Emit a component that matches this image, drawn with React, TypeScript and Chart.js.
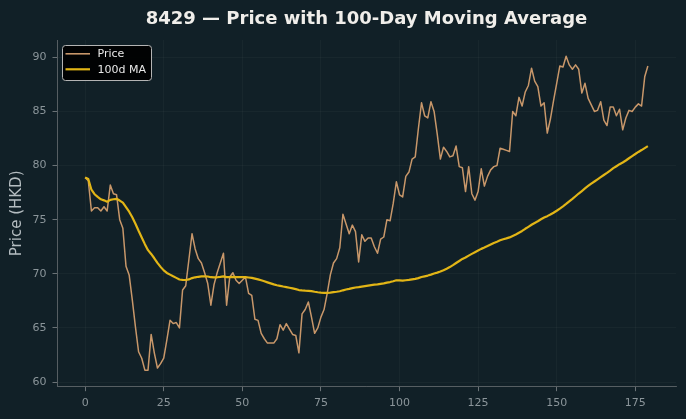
import React, { useEffect, useRef } from 'react';
import { Chart, registerables } from 'chart.js';

Chart.register(...registerables);

const TITLE = '8429 — Price with 100-Day Moving Average';
const Y_LABEL = 'Price (HKD)';
const SERIES_NAMES = ['Price', '100d MA'];
const X_TICKS = [0, 25, 50, 75, 100, 125, 150, 175];
const Y_TICKS = [60, 65, 70, 75, 80, 85, 90];
const MA_WINDOW = 100;

const PRICE = [
  78.9, 78.6, 75.8, 76.1, 76.1, 75.8, 76.2, 75.8, 78.2, 77.4,
  77.3, 75.0, 74.2, 70.7, 69.9, 67.6, 65.1, 62.8, 62.2, 61.1,
  61.1, 64.4, 62.7, 61.3, 61.7, 62.2, 63.9, 65.7, 65.4, 65.5,
  65.0, 68.5, 68.9, 71.3, 73.7, 72.3, 71.4, 71.0, 70.1, 69.1,
  67.1, 69.0, 70.1, 71.0, 71.9, 67.1, 69.7, 70.1, 69.4, 69.1,
  69.4, 69.7, 68.2, 68.0, 65.8, 65.7, 64.5, 64.0, 63.6, 63.6,
  63.6, 64.0, 65.3, 64.8, 65.4, 64.9, 64.4, 64.3, 62.7, 66.3,
  66.7, 67.4, 66.0, 64.5, 65.0, 66.0, 66.7, 68.2, 69.9, 71.0,
  71.4, 72.4, 75.5, 74.6, 73.7, 74.5, 73.9, 71.1, 73.6, 73.0,
  73.3, 73.3, 72.5, 71.9, 73.2, 73.4, 75.0, 74.9, 76.5, 78.5,
  77.3, 77.1, 79.0, 79.4, 80.6, 80.8, 83.4, 85.8, 84.6, 84.4,
  85.9, 85.0, 82.9, 80.6, 81.7, 81.3, 80.8, 80.9, 81.8, 79.9,
  79.8, 77.6, 79.9, 77.4, 76.8, 77.6, 79.7, 78.1, 79.0, 79.6,
  79.9, 80.0, 81.6, 81.5, 81.4, 81.3, 85.0, 84.6, 86.3, 85.5,
  86.8, 87.4, 89.0, 87.8, 87.3, 85.5, 85.8, 83.0, 84.3, 86.0,
  87.6, 89.2, 89.1, 90.1, 89.3, 88.9, 89.3, 88.9, 86.7, 87.6,
  86.2, 85.6, 85.0, 85.1, 85.9, 84.2, 83.7, 85.4, 85.4, 84.6,
  85.2, 83.3, 84.4, 85.1, 85.0, 85.4, 85.7, 85.5, 88.2, 89.2,
];

const DAYS = PRICE.map((_, i) => i);

function rollingMean(values: number[], w: number): number[] {
  const out: number[] = [];
  for (let i = 0; i < values.length; i++) {
    const start = Math.max(0, i - w + 1);
    let s = 0;
    for (let j = start; j <= i; j++) s += values[j];
    out.push(s / (i - start + 1));
  }
  return out;
}

const MA = rollingMean(PRICE, MA_WINDOW);

const BG = '#112027';
const PRICE_COLOR = '#c8976a';
const MA_COLOR = '#e2b516';
const TICK_COLOR = '#8b959a';
const FONT = '"DejaVu Sans", Verdana, sans-serif';

const decorPlugin = {
  id: 'decor',
  beforeDraw(chart: any) {
    const ctx = chart.ctx;
    ctx.save();
    ctx.fillStyle = BG;
    ctx.fillRect(0, 0, chart.width, chart.height);
    ctx.restore();
  },
  afterDraw(chart: any) {
    const ctx = chart.ctx;
    const a = chart.chartArea;
    ctx.save();
    // title
    ctx.font = `bold 18px ${FONT}`;
    ctx.fillStyle = '#f0eeea';
    ctx.textAlign = 'center';
    ctx.textBaseline = 'alphabetic';
    ctx.fillText(TITLE, (a.left + a.right) / 2, 24);

    // legend
    const bx = a.left + 5.5;
    const by = a.top + 5.5;
    const bw = 89;
    const bh = 35;
    const r = 3;
    ctx.beginPath();
    ctx.moveTo(bx + r, by);
    ctx.lineTo(bx + bw - r, by);
    ctx.arcTo(bx + bw, by, bx + bw, by + r, r);
    ctx.lineTo(bx + bw, by + bh - r);
    ctx.arcTo(bx + bw, by + bh, bx + bw - r, by + bh, r);
    ctx.lineTo(bx + r, by + bh);
    ctx.arcTo(bx, by + bh, bx, by + bh - r, r);
    ctx.lineTo(bx, by + r);
    ctx.arcTo(bx, by, bx + r, by, r);
    ctx.closePath();
    ctx.fillStyle = 'rgba(0,0,0,0.92)';
    ctx.fill();
    ctx.strokeStyle = '#b4b4b4';
    ctx.lineWidth = 1;
    ctx.stroke();

    const colors = [PRICE_COLOR, MA_COLOR];
    const widths = [1.6, 2.2];
    const rowsY = [by + 8.3, by + 23.8];
    ctx.font = `11px ${FONT}`;
    ctx.textAlign = 'left';
    ctx.textBaseline = 'middle';
    SERIES_NAMES.forEach((name, k) => {
      ctx.beginPath();
      ctx.strokeStyle = colors[k];
      ctx.lineWidth = widths[k];
      ctx.moveTo(bx + 3, rowsY[k]);
      ctx.lineTo(bx + 27.5, rowsY[k]);
      ctx.stroke();
      ctx.fillStyle = '#e8e8e8';
      ctx.fillText(name, bx + 35, rowsY[k] + 0.5);
    });
    ctx.restore();
  },
};

export default function App() {
  const ref = useRef<HTMLCanvasElement | null>(null);

  useEffect(() => {
    document.body.style.margin = '0';
    document.body.style.background = BG;
    const canvas = ref.current;
    if (!canvas) return;
    Chart.defaults.font.family = FONT;
    const chart = new Chart(canvas, {
      type: 'line',
      data: {
        datasets: [
          {
            label: SERIES_NAMES[0],
            data: DAYS.map((d, i) => ({ x: d, y: PRICE[i] })),
            borderColor: PRICE_COLOR,
            borderWidth: 1.5,
            pointRadius: 0,
            tension: 0,
            borderJoinStyle: 'round',
            order: 2,
          },
          {
            label: SERIES_NAMES[1],
            data: DAYS.map((d, i) => ({ x: d, y: MA[i] })),
            borderColor: MA_COLOR,
            borderWidth: 2.2,
            pointRadius: 0,
            tension: 0,
            borderJoinStyle: 'round',
            order: 1,
          },
        ],
      },
      options: {
        responsive: false,
        maintainAspectRatio: false,
        devicePixelRatio: 1,
        animation: false,
        layout: { padding: { top: 40, right: 10, left: 0, bottom: 0 } },
        plugins: {
          legend: { display: false },
          tooltip: { enabled: false },
          title: { display: false },
        },
        scales: {
          x: {
            type: 'linear',
            min: -8.95,
            max: 187.95,
            afterBuildTicks: (s: any) => {
              s.ticks = X_TICKS.map((v) => ({ value: v }));
            },
            afterFit: (s: any) => {
              s.height = 32.3;
            },
            ticks: {
              color: TICK_COLOR,
              font: { size: 11 },
              padding: 5,
              maxRotation: 0,
              autoSkip: false,
            },
            grid: {
              color: 'rgba(255,255,255,0.045)',
              lineWidth: 0.8,
              tickColor: '#6a7276',
              tickLength: 4.5,
              tickWidth: 1,
            },
            border: { color: '#565e62', width: 1 },
          },
          y: {
            type: 'linear',
            min: 59.57,
            max: 91.6,
            afterBuildTicks: (s: any) => {
              s.ticks = Y_TICKS.map((v) => ({ value: v }));
            },
            afterFit: (s: any) => {
              s.width = 57;
            },
            ticks: {
              color: TICK_COLOR,
              font: { size: 11 },
              padding: 6,
              autoSkip: false,
            },
            grid: {
              color: 'rgba(255,255,255,0.045)',
              lineWidth: 0.8,
              tickColor: '#6a7276',
              tickLength: 4.5,
              tickWidth: 1,
            },
            border: { color: '#565e62', width: 1 },
            title: {
              display: true,
              text: Y_LABEL,
              color: '#b5bdc1',
              font: { size: 15 },
              padding: { top: 8, bottom: 0 },
            },
          },
        },
      },
      plugins: [decorPlugin],
    } as any);
    return () => chart.destroy();
  }, []);

  return (
    <div style={{ position: 'absolute', left: 0, top: 0, width: 686, height: 419, background: BG }}>
      <canvas ref={ref} width={686} height={419} style={{ width: 686, height: 419, display: 'block' }} />
    </div>
  );
}
